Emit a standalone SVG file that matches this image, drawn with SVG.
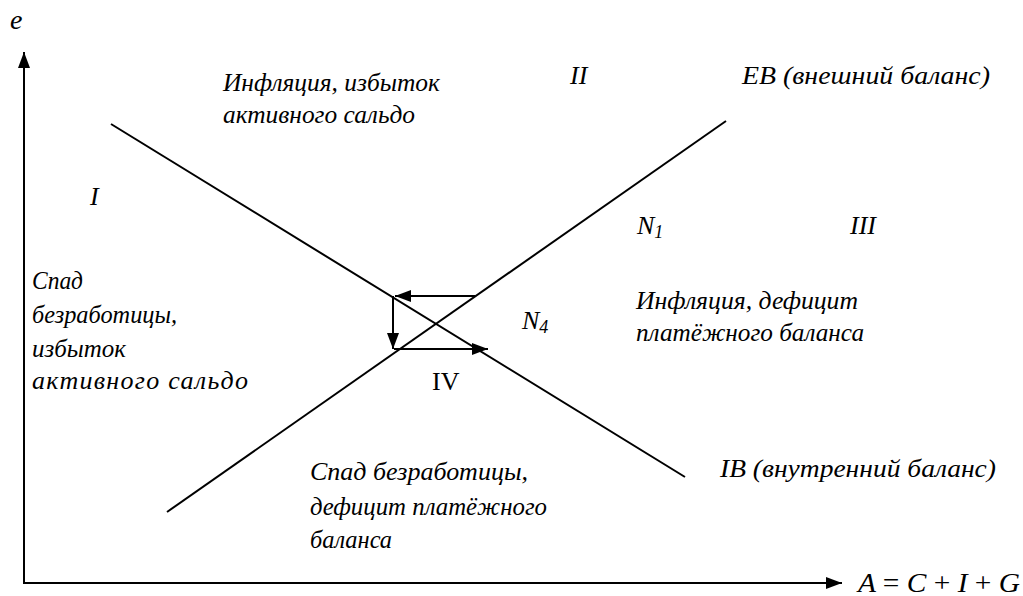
<svg xmlns="http://www.w3.org/2000/svg" width="1023" height="596" viewBox="0 0 1023 596">
<style>
.t{font-family:"Liberation Serif","Times New Roman",serif;font-style:italic;font-size:26px;fill:#000}
.r{font-style:normal}
.ln{stroke:#000;stroke-width:2;fill:none}
</style>
<defs>
<marker id="ah" viewBox="0 0 16 12" refX="16" refY="6" markerWidth="16" markerHeight="12" markerUnits="userSpaceOnUse" orient="auto">
<path d="M0,0 L16,6 L0,12 Z" fill="#000"/>
</marker>
</defs>
<rect width="1023" height="596" fill="#fff"/>
<g id="axes">
<line class="ln" x1="24" y1="583" x2="24" y2="52" marker-end="url(#ah)"/>
<line class="ln" x1="23" y1="583" x2="842" y2="583" marker-end="url(#ah)"/>
<text class="t" x="10" y="29" style="font-size:28px">e</text>
<text class="t" x="858" y="592" style="font-size:28px" textLength="162" lengthAdjust="spacingAndGlyphs">A <tspan class="r">=</tspan> C <tspan class="r">+</tspan> I <tspan class="r">+</tspan> G</text>
</g>
<g id="connectors">
<line class="ln" x1="111" y1="124" x2="685" y2="477"/>
<line class="ln" x1="167" y1="512" x2="726" y2="121"/>
<line class="ln" x1="475" y1="296" x2="395" y2="296" marker-end="url(#ah)"/>
<line class="ln" x1="393" y1="296" x2="393" y2="349" marker-end="url(#ah)"/>
<line class="ln" x1="394" y1="349" x2="488" y2="349" marker-end="url(#ah)"/>
</g>
<g id="labels">
<text class="t" x="223" y="91" textLength="217" lengthAdjust="spacingAndGlyphs">Инфляция, избыток</text>
<text class="t" x="223" y="123" textLength="192" lengthAdjust="spacingAndGlyphs">активного сальдо</text>
<text class="t" x="570" y="84">II</text>
<text class="t" x="742" y="84" textLength="248" lengthAdjust="spacingAndGlyphs">EB (внешний баланс)</text>
<text class="t" x="90" y="205">I</text>
<text class="t" x="637" y="234">N<tspan style="font-size:18px" dy="4">1</tspan></text>
<text class="t" x="850" y="234">III</text>
<text class="t" x="32" y="289" textLength="51" lengthAdjust="spacingAndGlyphs">Спад</text>
<text class="t" x="32" y="323" textLength="145" lengthAdjust="spacingAndGlyphs">безработицы,</text>
<text class="t" x="32" y="357" textLength="94" lengthAdjust="spacingAndGlyphs">избыток</text>
<text class="t" x="32" y="389" textLength="216" lengthAdjust="spacing">активного сальдо</text>
<text class="t" x="636" y="309" textLength="222" lengthAdjust="spacingAndGlyphs">Инфляция, дефицит</text>
<text class="t" x="636" y="341" textLength="228" lengthAdjust="spacingAndGlyphs">платёжного баланса</text>
<text class="t" x="522" y="329">N<tspan style="font-size:18px" dy="4">4</tspan></text>
<text class="t r" x="432" y="390">IV</text>
<text class="t" x="310" y="480" textLength="218" lengthAdjust="spacingAndGlyphs">Спад безработицы,</text>
<text class="t" x="310" y="515" textLength="237" lengthAdjust="spacingAndGlyphs">дефицит платёжного</text>
<text class="t" x="310" y="548" textLength="82" lengthAdjust="spacingAndGlyphs">баланса</text>
<text class="t" x="720" y="477" textLength="276" lengthAdjust="spacingAndGlyphs">IB (внутренний баланс)</text>
</g>
</svg>
